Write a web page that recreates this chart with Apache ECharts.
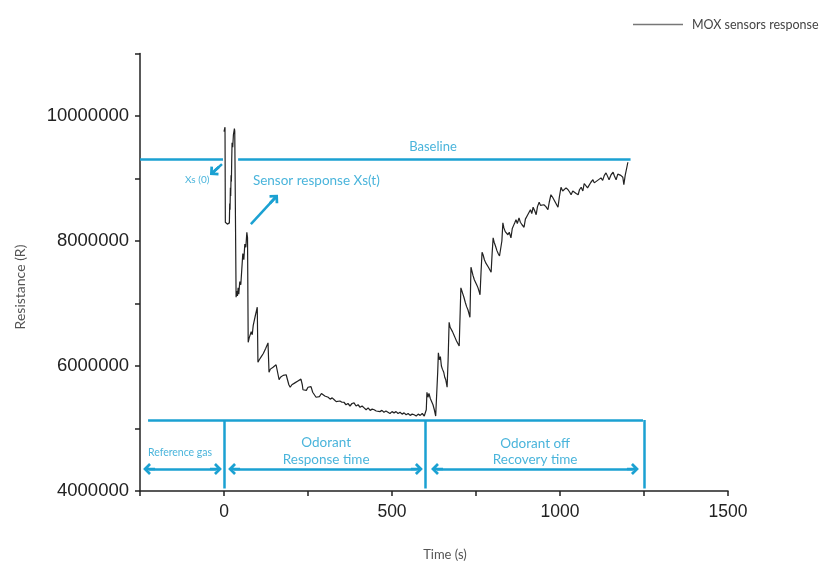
<!doctype html>
<html lang="en">
<head>
<meta charset="utf-8"/>
<title>MOX sensors response</title>
<style>
  html, body { margin: 0; padding: 0; background: #fff; }
  #chart { width: 830px; height: 563px; }
</style>
</head>
<body>
<div id="chart"></div>
<script src="https://cdn.jsdelivr.net/npm/echarts@6/dist/echarts.min.js"></script>
<script>
// Sensor trace: time in s, resistance in millions of ohms
const timeS = [
  0, 3, 4, 10, 16, 17, 18, 19, 20, 21, 22, 23, 24, 26, 28, 31, 32, 36,
  38, 40, 42, 44, 47, 50, 53, 56, 59, 62, 65, 68, 70, 72, 75, 78, 81, 84, 87, 90, 93, 96, 99,
  101, 105, 108, 111, 114, 117, 120, 124, 127, 131, 134, 138, 142, 146, 150, 155, 160, 164,
  168, 172, 176, 180, 185, 190, 193, 197, 202, 206, 211, 216, 220, 225, 229, 233, 235, 240,
  245, 250, 255, 259, 264, 269, 274, 279, 284, 290, 295, 300, 304, 310, 316, 322, 328, 334,
  339, 345, 351, 357, 363, 369, 375, 381, 387, 393, 399, 405, 411, 417, 423, 429, 435, 441,
  447, 453, 458, 464, 470, 476, 482, 488, 494, 500, 506, 512, 518, 524, 530, 536, 542, 548,
  554, 560, 566, 572, 578, 584, 590, 596, 600, 602, 604, 607, 610, 614, 618, 622, 626, 630,
  633, 636, 638, 641, 644, 647, 650, 654, 657, 660, 664, 667, 670, 673, 676, 680, 684, 688,
  692, 696, 700, 703, 705, 708, 711, 714, 718, 722, 726, 730, 732, 735, 738, 741, 745, 748,
  752, 756, 760, 762, 765, 768, 771, 775, 779, 783, 787, 791, 795, 798, 801, 804, 808, 812,
  816, 820, 824, 827, 830, 833, 837, 841, 845, 849, 854, 858, 862, 866, 869, 873, 878, 882,
  887, 893, 897, 902, 908, 912, 916, 920, 925, 929, 933, 938, 942, 947, 952, 958, 964, 968,
  973, 978, 982, 988, 994, 998, 1003, 1008, 1012, 1018, 1024, 1029, 1033, 1038, 1042, 1048,
  1054, 1058, 1063, 1068, 1072, 1077, 1082, 1086, 1092, 1098, 1102, 1107, 1112, 1117, 1122,
  1127, 1132, 1137, 1142, 1146, 1152, 1158, 1162, 1167, 1172, 1176, 1181, 1187, 1190, 1194,
  1199, 1202
];
const resistanceM = [
  9.75, 9.82, 8.30, 8.27, 8.29, 8.60, 8.50, 8.85, 8.72, 9.05, 8.95, 9.30, 9.57, 9.50, 9.70, 9.80, 9.76, 7.10,
  7.20, 7.12, 7.25, 7.15, 7.35, 7.30, 7.55, 7.80, 7.70, 7.95, 7.90, 8.14, 8.05, 6.38, 6.45, 6.42, 6.55, 6.50, 6.65, 6.62, 6.80, 6.78, 6.94,
  6.06, 6.10, 6.08, 6.15, 6.12, 6.20, 6.22, 6.28, 6.30, 6.37, 5.90, 5.95, 5.92, 5.98, 5.96, 6.02, 6.05, 5.78,
  5.82, 5.79, 5.85, 5.83, 5.86, 5.89, 5.70, 5.66, 5.70, 5.69, 5.73, 5.72, 5.76, 5.78, 5.79, 5.70, 5.62, 5.64,
  5.61, 5.66, 5.64, 5.67, 5.58, 5.55, 5.50, 5.53, 5.51, 5.56, 5.57, 5.52, 5.49, 5.50, 5.47, 5.49, 5.46, 5.43,
  5.41, 5.44, 5.42, 5.42, 5.38, 5.40, 5.36, 5.40, 5.41, 5.36, 5.38, 5.34, 5.36, 5.33, 5.30, 5.33, 5.29, 5.31,
  5.30, 5.28, 5.30, 5.27, 5.29, 5.26, 5.28, 5.26, 5.24, 5.27, 5.25, 5.27, 5.24, 5.26, 5.23, 5.25, 5.22, 5.24,
  5.21, 5.23, 5.22, 5.20, 5.23, 5.21, 5.24, 5.20, 5.22, 5.30, 5.58, 5.50, 5.56, 5.48, 5.45, 5.38, 5.30, 5.20,
  5.17, 5.90, 6.21, 6.10, 6.15, 6.00, 5.95, 5.90, 5.82, 5.78, 5.66, 6.10, 6.70, 6.62, 6.65, 6.55, 6.50, 6.45,
  6.40, 6.36, 6.32, 6.29, 7.25, 7.20, 7.15, 7.10, 7.02, 6.95, 6.90, 6.82, 6.78, 7.58, 7.55, 7.45, 7.38, 7.40,
  7.30, 7.25, 7.18, 7.14, 7.50, 7.82, 7.78, 7.70, 7.65, 7.62, 7.58, 7.54, 7.50, 7.80, 8.05, 7.98, 7.92, 7.85,
  7.80, 7.76, 7.74, 8.00, 8.29, 8.21, 8.15, 8.18, 8.10, 8.14, 8.05, 8.20, 8.25, 8.30, 8.34, 8.28, 8.37, 8.30,
  8.26, 8.22, 8.35, 8.40, 8.46, 8.50, 8.44, 8.54, 8.48, 8.42, 8.55, 8.62, 8.57, 8.60, 8.58, 8.55, 8.50, 8.62,
  8.74, 8.70, 8.66, 8.60, 8.54, 8.70, 8.86, 8.80, 8.77, 8.85, 8.82, 8.78, 8.74, 8.80, 8.82, 8.76,
  8.74, 8.82, 8.86, 8.80, 8.92, 8.90, 8.85, 8.82, 8.94, 8.98, 8.93, 8.90, 8.97, 8.95, 9.01,
  8.97, 9.05, 9.09, 9.03, 8.98, 9.06, 9.10, 9.04, 8.98, 9.07, 9.10, 9.05, 9.02, 8.90, 9.05,
  9.18, 9.26
];

// Annotation geometry in data units (s, ohm)
const baselineR = 9.31e6;
const baselineLeft = [-250, -3];
const baselineRight = [42, 1210];
const bracketR = 5.136e6;
const bracketSpan = [-226, 1247];
const bracketPosts = [0, 600, 1250];
const bracketFloor = 4.04e6;
const spanR = 4.352e6;
const spanArrows = [[-223, -24], [30, 574], [634, 1217]];
const xs0Arrow = [[-6, 9.23e6], [-28.6, 9.12e6]];
const responseArrow = [[80, 8.27e6], [148.5, 8.67e6]];

const noteText = ['Baseline', 'Xs (0)', 'Sensor response Xs(t)', 'Reference gas',
  'Odorant\nResponse time', 'Odorant off\nRecovery time'];
const noteT = [622, -80, 86, -131, 304, 926];
const noteR = [9.50e6, 8.98e6, 8.96e6, 4.62e6, 4.64e6, 4.63e6];

const xTicks = { min: -250, max: 1500, step: 250 };
const yTicks = { min: 4e6, max: 11e6, step: 1e6 };

const CYAN = '#1ba1d2';
const chevron = 'path://M10,0 L20,10 L16.8,13.2 L12.25,8.65 L12.25,20 L7.75,20 L7.75,8.65 L3.2,13.2 L0,10 Z';

const trace = timeS.map((t, i) => [t, resistanceM[i] * 1e6]);

const lineSegs = [
  { coords: [[baselineLeft[0], baselineR], [baselineLeft[1], baselineR]] },
  { coords: [[baselineRight[0], baselineR], [baselineRight[1], baselineR]] },
  { coords: [[bracketSpan[0], bracketR], [bracketSpan[1], bracketR]] },
  ...bracketPosts.map(t => ({ coords: [[t, bracketFloor], [t, bracketR]] })),
];
const arrowSegs = [
  ...spanArrows.map(s => ({ coords: [[s[0], spanR], [s[1], spanR]], symbol: ['chev', 'chev'] })),
  { coords: xs0Arrow, symbol: ['none', 'chev'] },
  { coords: responseArrow, symbol: ['none', 'chev'] },
];

const noteFont = [13, 10, 13.5, 10.5, 13.5, 13.5];
const noteAlign = ['center', 'center', 'left', 'center', 'center', 'center'];
const notes = noteText.map((s, i) => ({
  value: [noteT[i], noteR[i]],
  label: {
    show: true, position: 'inside', formatter: s, align: noteAlign[i],
    fontSize: noteFont[i], lineHeight: noteFont[i] + 3,
    color: CYAN, fontFamily: 'Lato, "Noto Sans", sans-serif',
  },
}));

const chart = echarts.init(document.getElementById('chart'), null, { renderer: 'canvas' });
chart.setOption({
  animation: false,
  backgroundColor: '#fff',
  grid: { left: 140, right: 102, top: 53.5, bottom: 72 },
  legend: {
    data: ['MOX sensors response'],
    left: 628, top: 13,
    itemWidth: 50, itemHeight: 1.4,
    icon: 'rect',
    itemStyle: { color: '#777' },
    textStyle: { fontSize: 12.5, color: '#444', fontFamily: 'Lato, sans-serif', padding: [0, 0, 0, 4] },
  },
  xAxis: {
    type: 'value', min: xTicks.min, max: xTicks.max, interval: xTicks.step,
    splitLine: { show: false },
    axisLine: { onZero: false, lineStyle: { color: '#222', width: 1.5 } },
    axisTick: { length: 5, lineStyle: { color: '#222', width: 1.5 } },
    axisLabel: {
      margin: 12, fontSize: 17.5, color: '#222', fontFamily: '"Liberation Sans", Arial, sans-serif',
      formatter: v => (v % 500 === 0 ? String(v) : ''),
    },
  },
  yAxis: {
    type: 'value', min: yTicks.min, max: yTicks.max, interval: yTicks.step,
    splitLine: { show: false },
    axisLine: { show: true, onZero: false, lineStyle: { color: '#222', width: 1.5 } },
    axisTick: { show: true, length: 5, lineStyle: { color: '#222', width: 1.5 } },
    axisLabel: {
      margin: 11, fontSize: 18.5, color: '#222', fontFamily: '"Liberation Sans", Arial, sans-serif',
      formatter: v => (v % 2e6 === 0 ? String(v) : ''),
    },
  },
  graphic: [
    { type: 'text', x: 445, y: 555, style: { text: 'Time (s)', fill: '#555', font: '13px Lato, sans-serif', textAlign: 'center', textVerticalAlign: 'middle' } },
    { type: 'text', x: 20, y: 287, rotation: Math.PI / 2, style: { text: 'Resistance (R)', fill: '#555', font: '14px Lato, sans-serif', textAlign: 'center', textVerticalAlign: 'middle' } },
  ],
  series: [
    {
      name: 'Baseline marks', type: 'lines', coordinateSystem: 'cartesian2d',
      lineStyle: { color: CYAN, width: 2.5, opacity: 1 }, symbol: 'none',
      data: lineSegs, z: 1,
    },
    {
      name: 'MOX sensors response', type: 'line', data: trace,
      showSymbol: false, symbol: 'none',
      lineStyle: { color: '#222', width: 1.2 }, itemStyle: { color: '#777' },
      z: 3,
    },
    {
      name: 'Arrows', type: 'lines', coordinateSystem: 'cartesian2d',
      lineStyle: { color: CYAN, width: 2.5, opacity: 1 },
      symbol: ['none', chevron], symbolSize: 12,
      data: arrowSegs.map(a => ({
        coords: a.coords,
        symbol: a.symbol.map(s => (s === 'chev' ? chevron : 'none')),
      })),
      z: 2,
    },
    {
      name: 'Notes', type: 'scatter', symbolSize: 0, data: notes, z: 4,
      itemStyle: { color: CYAN },
    },
  ],
});
</script>
</body>
</html>
